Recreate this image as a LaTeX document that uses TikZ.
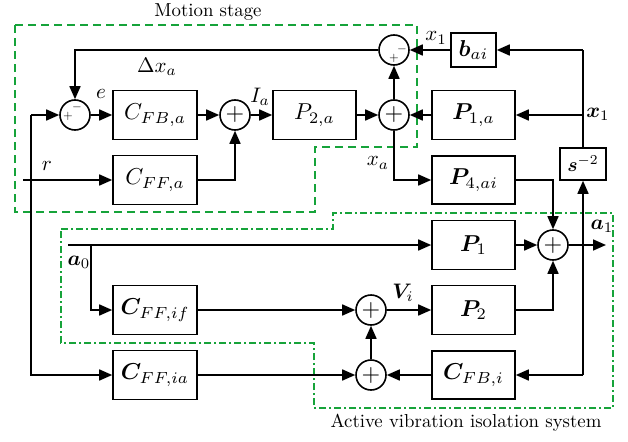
\documentclass[tikz,border=0pt]{standalone}
\usepackage{amsmath,bm,graphicx}
\usetikzlibrary{arrows.meta}
\definecolor{stagegreen}{RGB}{22,163,58}
\newcommand\BoxTxt[1]{\scalebox{2.3}{$#1$}}
\newcommand\LblTxt[1]{\scalebox{2.1}{$#1$}}
\newcommand\CapTxt[1]{\scalebox{1.88}{#1}}
\newcommand\PlusTxt{\scalebox{2.4}{$+$}}
\newcommand\SgnTxt[1]{\scalebox{1.25}{$#1$}}
\begin{document}
\begin{tikzpicture}[x=1pt,y=-1pt,
  every node/.style={font=\fontsize{10}{12}\selectfont},
  blk/.style={draw,line width=1.6pt,minimum width=84pt,minimum height=49pt,inner sep=0pt},
  sumc/.style={draw,circle,line width=1.6pt,minimum size=30pt,inner sep=0pt},
  lbl/.style={inner sep=0pt},
  sgn/.style={inner sep=0pt},
  wire/.style={line width=1.6pt},
  sig/.style={line width=1.6pt,-{Triangle[length=13pt,width=11pt]}},
  msbox/.style={draw=stagegreen,line width=2.4pt,dash pattern=on 8pt off 5pt},
  avbox/.style={draw=stagegreen,line width=2pt,dash pattern=on 7pt off 3pt on 2pt off 3pt}
  ]
\useasboundingbox (0,0) rectangle (628,441);

% group frames
\draw[msbox] (15,25) -- (417,25) -- (417,147) -- (315,147) -- (315,212) -- (15,212) -- cycle;
\draw[avbox] (61,229) -- (333,229) -- (333,213) -- (613,213) -- (613,408) -- (314,408) -- (314,343) -- (61,343) -- cycle;

% blocks and summing junctions
\node[sumc] (s1) at (75,115) {};
\node[sgn] (s1p) at (68,116) {\SgnTxt{+}};
\node[sgn] (s1m) at (77,107) {\SgnTxt{-}};
\node[blk] (cfba) at (155,115) {\BoxTxt{C_{FB,a}}};
\node[sumc] (s2) at (235,115) {\PlusTxt};
\node[blk,minimum width=83pt] (p2a) at (314.5,115) {\BoxTxt{P_{2,a}}};
\node[sumc] (s3) at (394,115) {\PlusTxt};
\node[sumc] (st) at (394,50) {};
\node[sgn] (stm) at (402,49) {\SgnTxt{-}};
\node[sgn] (stp) at (394,58) {\SgnTxt{+}};
\node[blk,minimum width=45pt,minimum height=34pt] (bai) at (473.5,50) {\BoxTxt{\bm{b}_{ai}}};
\node[blk,minimum width=83pt] (p1a) at (473.5,115) {\BoxTxt{\bm{P}_{1,a}}};
\node[blk,minimum width=83pt,minimum height=48pt] (p4ai) at (473.5,180) {\BoxTxt{\bm{P}_{4,ai}}};
\node[blk,minimum width=46pt,minimum height=32pt] (sinv) at (583,164) {\scalebox{1.95}{$\bm{s}^{-2}$}};
\node[blk] (cffa) at (155,180) {\BoxTxt{C_{FF,a}}};
\node[sumc] (s4) at (553,245) {\PlusTxt};
\node[blk,minimum width=83pt] (p1) at (473.5,245) {\BoxTxt{\bm{P}_1}};
\node[blk,minimum width=83pt] (p2) at (473.5,310) {\BoxTxt{\bm{P}_2}};
\node[sumc] (s5) at (371,310) {\PlusTxt};
\node[sumc] (s6) at (371,375) {\PlusTxt};
\node[blk,minimum width=83pt,minimum height=48pt] (cfbi) at (473.5,375) {\BoxTxt{\bm{C}_{FB,i}}};
\node[blk] (cffif) at (155,310) {\BoxTxt{\bm{C}_{FF,if}}};
\node[blk] (cffia) at (155,375) {\BoxTxt{\bm{C}_{FF,ia}}};

% free ends and branch points
\coordinate (x1top) at (583,50);
\coordinate (x1mid) at (583,115);
\coordinate (x1bot) at (583,375);
\coordinate (rin) at (23,180);
\coordinate (vtop) at (31,115);
\coordinate (vbot) at (31,375);
\coordinate (a0in) at (68,245);
\coordinate (a0br) at (91,245);
\coordinate (a1out) at (606,245);

% connectors
\draw[sig] (st.west) -| (s1.north);
\draw[sig] (bai.west) -- (st.east);
\draw[wire] (sinv.north) -- (x1top);
\draw[sig] (x1top) -- (bai.east);
\draw[sig] (x1mid) -- (p1a.east);
\draw[sig] (p1a.west) -- (s3.east);
\draw[sig] (p2a.east) -- (s3.west);
\draw[sig] (s3.north) -- (st.south);
\draw[sig] (s3.south) |- (p4ai.west);
\draw[sig] (p4ai.east) -| (s4.north);
\draw[sig] (s1.east) -- (cfba.west);
\draw[sig] (cfba.east) -- (s2.west);
\draw[sig] (s2.east) -- (p2a.west);
\draw[sig] (cffa.east) -| (s2.south);
\draw[sig] (rin) -- (cffa.west);
\draw[sig] (vtop) -- (s1.west);
\draw[sig] (vtop) -- (vbot) -- (cffia.west);
\draw[sig] (a0in) -- (p1.west);
\draw[sig] (a0br) |- (cffif.west);
\draw[sig] (cffif.east) -- (s5.west);
\draw[sig] (s5.east) -- (p2.west);
\draw[sig] (s6.north) -- (s5.south);
\draw[sig] (cffia.east) -- (s6.west);
\draw[sig] (cfbi.west) -- (s6.east);
\draw[sig] (x1bot) -- (cfbi.east);
\draw[sig] (x1bot) -- (sinv.south);
\draw[sig] (p1.east) -- (s4.west);
\draw[sig] (p2.east) -| (s4.south);
\draw[sig] (s4.east) -- (a1out);

% labels
\node[lbl] (ldx) at (157,67) {\LblTxt{\Delta x_a}};
\node[lbl] (lx1a) at (436,38) {\LblTxt{x_1}};
\node[lbl] (lx1b) at (598,114) {\LblTxt{\bm{x}_1}};
\node[lbl] (lxa) at (378,163) {\LblTxt{x_a}};
\node[lbl] (le) at (101,94) {\LblTxt{e}};
\node[lbl] (lia) at (260,97) {\LblTxt{I_a}};
\node[lbl] (lr) at (47,166) {\LblTxt{r}};
\node[lbl] (la0) at (79,262) {\LblTxt{\bm{a}_0}};
\node[lbl] (lvi) at (403,293) {\LblTxt{\bm{V}_i}};
\node[lbl] (la1) at (602,226) {\LblTxt{\bm{a}_1}};
\node[lbl] (lms) at (208,12) {\CapTxt{Motion stage}};
\node[lbl] (lavis) at (466,423) {\CapTxt{Active vibration isolation system}};
\end{tikzpicture}
\end{document}
